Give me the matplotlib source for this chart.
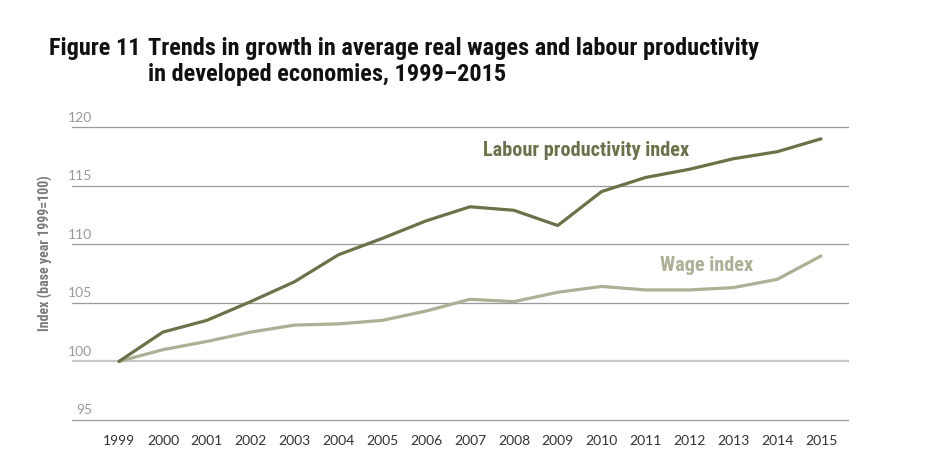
import matplotlib.pyplot as plt
from matplotlib import font_manager

# Data
years = list(range(1999, 2016))
productivity = [100.0, 102.5, 103.5, 105.1, 106.8, 109.1, 110.5, 112.0, 113.2,
                112.9, 111.6, 114.5, 115.7, 116.4, 117.3, 117.9, 119.0]
wages = [100.0, 101.0, 101.7, 102.5, 103.1, 103.2, 103.5, 104.3, 105.3,
         105.1, 105.9, 106.4, 106.1, 106.1, 106.3, 107.0, 109.0]
y_ticks = [95, 100, 105, 110, 115, 120]

prod_color = '#6c7148'
wage_color = '#aeaf95'


def pick(candidates):
    installed = {f.name for f in font_manager.fontManager.ttflist}
    for name in candidates:
        if name in installed:
            return name
    return 'DejaVu Sans'


cond = pick(['Roboto Condensed', 'Barlow Semi Condensed', 'Archivo Narrow',
             'Liberation Sans Narrow'])
light = pick(['Lato', 'Roboto', 'Open Sans'])

fig = plt.figure(figsize=(9.31, 4.70), dpi=100)
ax = fig.add_axes([72 / 931, 0.1015, 777 / 931, 0.633])

ax.plot(years, wages, color=wage_color, lw=2.3, solid_joinstyle='round',
        solid_capstyle='round', zorder=3)
ax.plot(years, productivity, color=prod_color, lw=2.3, solid_joinstyle='round',
        solid_capstyle='round', zorder=4)

ax.set_xlim(1999 - 47 / 43.875, 2015 + 28 / 43.875)
ax.set_ylim(94.8, 120.2)

# gridlines with the labels sitting on top of them
for v in y_ticks:
    if v == 100:
        ax.axhline(v, color='#c8c8c8', lw=1.6, zorder=1)
    else:
        ax.axhline(v, color='#9a9a9a', lw=0.9, zorder=1)
    ax.text(20 / 777, v + 0.3, str(v), transform=ax.get_yaxis_transform(),
            ha='right', va='bottom', fontsize=10, color='#9a9a9a',
            family=light, fontweight='normal')

for s in ax.spines.values():
    s.set_visible(False)
ax.set_yticks([])
ax.set_xticks(years)
ax.set_xticklabels([str(y) for y in years], fontsize=10, color='#333333',
                   family=light, fontweight='normal')
ax.tick_params(axis='x', length=0, pad=9)

ax.set_ylabel('Index (base year 1999=100)', fontsize=10, color='#7a7a7a',
              fontweight='bold', family=cond)
ax.yaxis.set_label_coords(-19 / 777, 0.57)

ax.text(2007.3, 118.0, 'Labour productivity index', color=prod_color,
        fontsize=14.6, fontweight='bold', va='center', ha='left', family=cond)
ax.text(2011.33, 108.2, 'Wage index', color=wage_color,
        fontsize=14.6, fontweight='bold', va='center', ha='left', family=cond)

title_kw = dict(fontsize=17.5, fontweight='bold', color='#111111',
                va='baseline', family=cond)
fig.text(49 / 931, 1 - 55 / 470, 'Figure 11', **title_kw)
fig.text(148 / 931, 1 - 55 / 470,
         'Trends in growth in average real wages and labour productivity',
         **title_kw)
fig.text(148 / 931, 1 - 81 / 470, 'in developed economies, 1999\u20132015',
         **title_kw)

fig.savefig('out.png', dpi=100)
